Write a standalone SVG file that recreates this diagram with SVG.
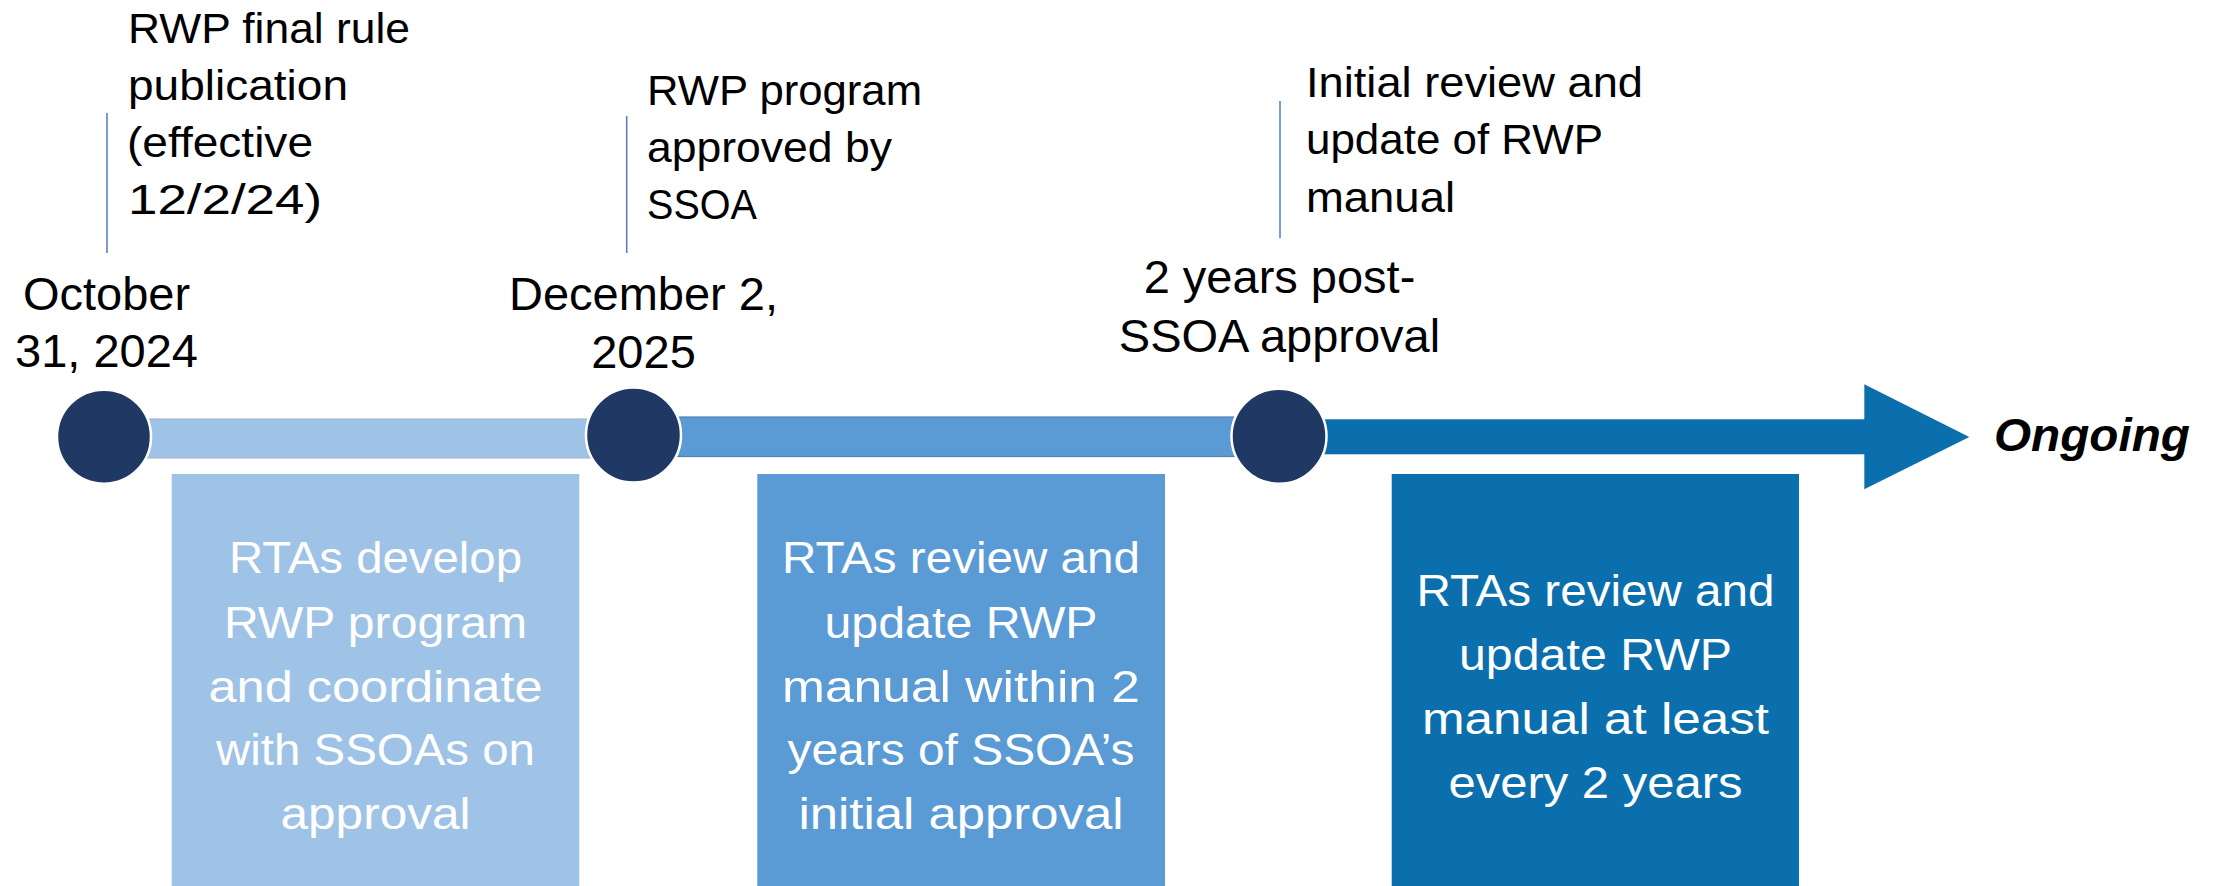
<svg xmlns="http://www.w3.org/2000/svg" width="2213" height="886" viewBox="0 0 2213 886">
  <style>
    .lbl { font-family: "Liberation Sans", Arial, sans-serif; font-size: 42px; fill: #000; }
    .date { font-family: "Liberation Sans", Arial, sans-serif; font-size: 47px; fill: #000; text-anchor: middle; }
    .box-text { font-family: "Liberation Sans", Arial, sans-serif; font-size: 45px; fill: #fff; text-anchor: middle; }
    .tick { stroke: #5B80C8; stroke-width: 1.6; fill: none; }
    .dot { fill: #203864; stroke: #fff; stroke-width: 2.5; }
    .end { font-family: "Liberation Sans", Arial, sans-serif; font-size: 47px; font-weight: bold; font-style: italic; fill: #000; }
  </style>
  <rect width="2213" height="886" fill="#fff"/>

  <!-- timeline segments and the closing arrow -->
  <g id="connectors">
    <rect x="104" y="419" width="530" height="39" fill="#9FC3E6" stroke="#AAB8C8" stroke-width="1.2"/>
    <rect x="633" y="417" width="646" height="39.5" fill="#5B9BD5" stroke="#557FAE" stroke-width="1.2"/>
    <rect x="1279" y="419.3" width="586" height="35" fill="#0C6FAD"/>
    <polygon points="1864.3,384.3 1969.3,437 1864.3,489.3" fill="#0C6FAD"/>
  </g>

  <!-- milestone 1 -->
  <g id="milestone-oct-2024">
    <line class="tick" x1="107" y1="113" x2="107" y2="253"/>
    <text class="lbl" x="128" y="43" textLength="282" lengthAdjust="spacingAndGlyphs">RWP final rule</text>
    <text class="lbl" x="128" y="100" textLength="220" lengthAdjust="spacingAndGlyphs">publication</text>
    <text class="lbl" x="127" y="157" textLength="186" lengthAdjust="spacingAndGlyphs">(effective</text>
    <text class="lbl" x="128" y="214" textLength="194" lengthAdjust="spacingAndGlyphs">12/2/24)</text>
    <text class="date" x="106.5" y="310">October</text>
    <text class="date" x="106.5" y="367">31, 2024</text>
    <circle class="dot" cx="104" cy="436.7" r="47"/>
  </g>

  <!-- milestone 2 -->
  <g id="milestone-dec-2025">
    <line class="tick" x1="626.7" y1="116" x2="626.7" y2="253"/>
    <text class="lbl" x="647" y="105" textLength="275" lengthAdjust="spacingAndGlyphs">RWP program</text>
    <text class="lbl" x="647" y="162" textLength="245" lengthAdjust="spacingAndGlyphs">approved by</text>
    <text class="lbl" x="647" y="219" textLength="110" lengthAdjust="spacingAndGlyphs">SSOA</text>
    <text class="date" x="643.5" y="310">December 2,</text>
    <text class="date" x="643.5" y="368">2025</text>
    <circle class="dot" cx="633.5" cy="435" r="47.5"/>
  </g>

  <!-- milestone 3 -->
  <g id="milestone-two-years">
    <line class="tick" x1="1280" y1="101" x2="1280" y2="238"/>
    <text class="lbl" x="1306" y="97" textLength="337" lengthAdjust="spacingAndGlyphs">Initial review and</text>
    <text class="lbl" x="1306" y="154" textLength="297" lengthAdjust="spacingAndGlyphs">update of RWP</text>
    <text class="lbl" x="1306" y="212" textLength="149" lengthAdjust="spacingAndGlyphs">manual</text>
    <text class="date" x="1279.5" y="293">2 years post-</text>
    <text class="date" x="1279.5" y="352">SSOA approval</text>
    <circle class="dot" cx="1279" cy="436.3" r="47.5"/>
  </g>

  <!-- ongoing end marker -->
  <g id="ongoing">
    <text class="end" x="1994" y="451" textLength="196" lengthAdjust="spacingAndGlyphs">Ongoing</text>
  </g>

  <!-- phase boxes -->
  <g id="phase-develop">
    <rect x="171.7" y="474" width="407.6" height="412" fill="#9FC3E6"/>
    <text class="box-text" x="375.5" y="573" textLength="293" lengthAdjust="spacingAndGlyphs">RTAs develop</text>
    <text class="box-text" x="375.5" y="637.5" textLength="303" lengthAdjust="spacingAndGlyphs">RWP program</text>
    <text class="box-text" x="375.5" y="701.5" textLength="334" lengthAdjust="spacingAndGlyphs">and coordinate</text>
    <text class="box-text" x="375.5" y="765" textLength="319" lengthAdjust="spacingAndGlyphs">with SSOAs on</text>
    <text class="box-text" x="375.5" y="828.5" textLength="190" lengthAdjust="spacingAndGlyphs">approval</text>
  </g>

  <g id="phase-initial-review">
    <rect x="757.3" y="474" width="407.7" height="412" fill="#5B9BD5"/>
    <text class="box-text" x="961" y="573" textLength="358" lengthAdjust="spacingAndGlyphs">RTAs review and</text>
    <text class="box-text" x="961" y="637.5" textLength="273" lengthAdjust="spacingAndGlyphs">update RWP</text>
    <text class="box-text" x="961" y="701.5" textLength="358" lengthAdjust="spacingAndGlyphs">manual within 2</text>
    <text class="box-text" x="961" y="765" textLength="347" lengthAdjust="spacingAndGlyphs">years of SSOA’s</text>
    <text class="box-text" x="961" y="828.5" textLength="325" lengthAdjust="spacingAndGlyphs">initial approval</text>
  </g>

  <g id="phase-ongoing-review">
    <rect x="1391.7" y="474" width="407.3" height="412" fill="#0C6FAD"/>
    <text class="box-text" x="1595.5" y="605.7" textLength="358" lengthAdjust="spacingAndGlyphs">RTAs review and</text>
    <text class="box-text" x="1595.5" y="669.7" textLength="273" lengthAdjust="spacingAndGlyphs">update RWP</text>
    <text class="box-text" x="1595.5" y="733.7" textLength="347" lengthAdjust="spacingAndGlyphs">manual at least</text>
    <text class="box-text" x="1595.5" y="797.5" textLength="294" lengthAdjust="spacingAndGlyphs">every 2 years</text>
  </g>
</svg>
